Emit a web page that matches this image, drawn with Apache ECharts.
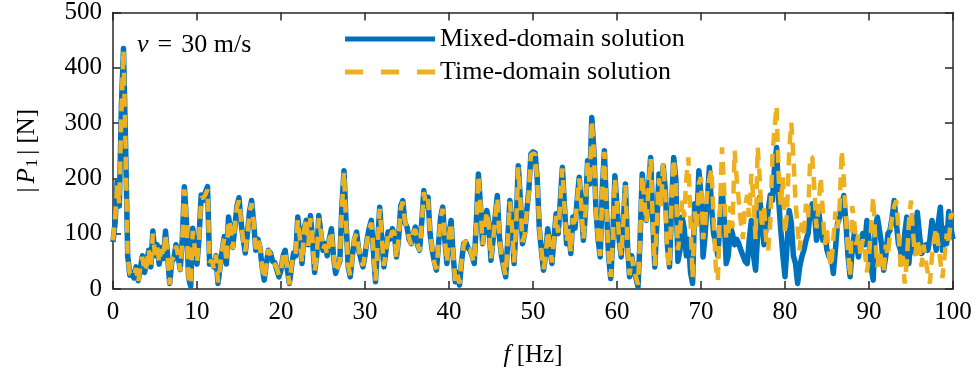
<!DOCTYPE html>
<html><head><meta charset="utf-8">
<script src="https://cdn.jsdelivr.net/npm/echarts@6/dist/echarts.min.js"></script>
<style>html,body{margin:0;padding:0;background:#fff}#c{width:978px;height:381px}</style>
</head><body><div id="c"></div>
<script>
const fStart = 0, fEnd = 100;
const seriesNames = ['Mixed-domain solution', 'Time-domain solution'];
const xTickValues = [0,10,20,30,40,50,60,70,80,90,100];
const yTickValues = [0,100,200,300,400,500];

const mixed = [
85,120,195,150,330,435,260,60, 25,30,20,40, 15,35,60,30, 45,70,40,105,
60,80,45,75, 55,105,60,10, 50,55,80,60, 35,90,185,120, 20,5,110,70,
45,95,170,160, 175,185,45,50, 40,60,10,40, 70,95,45,130, 110,75,110,150,
165,120,90,65, 100,140,160,120, 70,90,75,40, 16,45,70,65, 50,48,35,22,
34,60,70,35, 10,40,65,60, 130,90,46,110, 124,80,133,90, 30,60,133,100,
70,82,60,90, 109,60,28,40, 50,150,214,120, 40,22,60,90, 103,70,55,40,
60,90,110,124, 70,13,80,148, 90,40,70,103, 90,109,100,58, 90,150,160,120,
112,90,82,100, 112,80,70,120, 178,150,166,100, 70,50,34,80, 130,148,90,46,
100,124,60,13, 30,7,50,82, 85,75,70,60, 46,120,208,150, 82,110,142,120,
52,90,130,169, 94,60,40,22, 90,160,110,46, 120,223,160,82, 100,140,178,244,
248,246,200,110, 70,34,60,109, 80,46,90,136, 100,160,220,150, 82,110,64,130,
110,160,202,150, 88,140,232,190, 310,250,142,90, 58,180,250,142, 60,19,90,205,
150,90,58,120, 190,80,22,60, 34,20,4,90, 208,160,124,180, 238,130,40,120,
208,160,223,180, 80,40,150,238, 200,50,70,130, 110,60,90,30, 10,154,120,214,
170,58,100,160, 220,150,100,82, 60,120,184,130, 46,60,112,100, 80,90,82,70,
60,50,46,90, 124,60,34,100, 166,120,80,110, 142,170,160,220, 256,160,106,60,
22,80,142,120, 60,46,10,40, 58,70,88,100, 140,154,142,88, 142,110,88,100,
70,58,60,28, 70,118,130,150, 169,120,60,22, 70,100,80,58, 90,100,80,124,
90,40,16,110, 130,106,80,34, 60,100,106,130, 160,120,82,70, 46,100,130,46,
100,130,64,139, 100,64,70,80, 70,90,124,100, 70,120,148,70, 110,82,140,110,
90
];

const timeDomain = [
88,125,190,155,320,432,255,55, 28,25,22,38, 12,38,58,32, 42,72,38,100,
62,78,48,72, 58,100,62,8, 52,58,78,62, 32,88,180,125, 18,8,105,72,
48,92,165,165, 170,180,48,52, 38,62,12,38, 72,92,48,125, 112,72,112,148,
160,122,88,68, 98,138,155,122, 72,88,78,38, 18,42,72,62, 52,45,38,25,
30,62,68,38, 8,42,62,62, 125,92,48,105, 128,78,128,92, 32,58,128,102,
72,80,62,88, 105,62,30,38, 52,145,212,118, 42,25,58,92, 100,72,52,42,
62,88,108,120, 72,15,78,145, 92,42,68,100, 92,105,102,55, 92,145,158,122,
110,92,80,102, 108,82,68,118, 175,152,162,102, 72,48,36,78, 128,145,92,48,
98,120,62,15, 28,10,52,80, 88,72,72,58, 48,118,205,152, 80,112,140,118,
55,88,128,165, 96,58,42,25, 88,158,112,48, 118,220,158,85, 98,138,175,242,
245,244,198,112, 72,36,58,105, 82,48,88,132, 102,158,218,148, 85,108,66,128,
112,158,200,152, 90,138,230,188, 305,248,140,92, 60,178,248,140, 62,22,88,200,
152,92,60,118, 188,82,25,58, 36,22,8,92, 205,162,120,182, 235,128,42,118,
200,150,230,170, 60,40,160,235, 190,70,100,160, 130,200,238,120, 20,140,110,190,
202,90,120,180, 200,217,130,40, 16,140,256,184, 90,100,150,110, 250,200,160,120,
90,150,170,130, 208,160,90,256, 200,110,150,90, 70,120,240,290, 331,200,150,202,
100,140,250,301, 240,160,110,70, 120,100,154,130, 240,238,180,110, 150,202,140,80,
110,60,40,90, 140,110,150,250, 200,130,70,22, 150,120,80,100, 60,90,70,30,
60,110,166,90, 40,70,50,30, 80,60,100,130, 150,160,110,40, 60,10,50,120,
160,100,60,90, 70,40,80,50, 30,10,60,90, 110,80,50,20, 60,100,80,136,
130
];

function toPairs(arr){
  const step = (fEnd - fStart) / (arr.length - 1);
  return arr.map((v, i) => [fStart + i * step, v]);
}

const FONT = '"Liberation Serif","Times New Roman",Times,serif';
const AX = '#262626';
const TICKFS = 25;
const axisCommon = {
  axisLine: {show: true, onZero: false, lineStyle: {color: AX, width: 1.5}},
  axisTick: {show: true, inside: true, length: 8, lineStyle: {color: AX, width: 1.5}},
  splitLine: {show: false}
};

const chart = echarts.init(document.getElementById('c'), null, {renderer: 'canvas'});
chart.setOption({
  animation: false,
  backgroundColor: '#fff',
  grid: {left: 113, right: 25, top: 11, bottom: 92, containLabel: false},
  xAxis: [
    Object.assign({
      type: 'value', min: xTickValues[0], max: xTickValues[xTickValues.length-1], interval: 10, position: 'bottom',
      axisLabel: {color: '#000', fontFamily: FONT, fontSize: TICKFS, margin: 11},
      name: '{i|f} [Hz]', nameLocation: 'middle', nameGap: 54,
      nameTextStyle: {color: '#000', fontFamily: FONT, fontSize: 25,
        rich: {i: {fontStyle: 'italic', fontFamily: FONT, fontSize: 25, color: '#000'}}}
    }, axisCommon),
    Object.assign({
      type: 'value', min: 0, max: 100, interval: 10, position: 'top',
      axisLabel: {show: false}
    }, axisCommon)
  ],
  yAxis: [
    Object.assign({
      type: 'value', min: yTickValues[0], max: yTickValues[yTickValues.length-1], interval: 100, position: 'left',
      axisLabel: {color: '#000', fontFamily: FONT, fontSize: TICKFS, margin: 11},
      name: '|{i|P}{s|1}| [N]', nameLocation: 'middle', nameGap: 72,
      nameTextStyle: {color: '#000', fontFamily: FONT, fontSize: 25,
        rich: {
          i: {fontStyle: 'italic', fontFamily: FONT, fontSize: 25, color: '#000', padding: [0, 1, 0, 4]},
          s: {fontFamily: FONT, fontSize: 17, color: '#000', padding: [10, 4, 0, 0]}
        }}
    }, axisCommon),
    Object.assign({
      type: 'value', min: 0, max: 500, interval: 100, position: 'right',
      axisLabel: {show: false}
    }, axisCommon)
  ],
  legend: {
    orient: 'vertical', left: 345, top: 26, padding: 0, itemWidth: 90, itemHeight: 5, itemGap: 7,
    textStyle: {color: '#000', fontFamily: FONT, fontSize: 26},
    data: [
      {name: seriesNames[0], icon: 'path://M0,0H90V5H0Z', itemStyle: {color: '#0072BD'}},
      {name: seriesNames[1], icon: 'path://M0,0H18V5H0Z M36,0H54V5H36Z M72,0H90V5H72Z', itemStyle: {color: '#EDB120'}}
    ]
  },
  graphic: [{
    type: 'text', left: 137, top: 32,
    style: {
      text: '{i|v}{e|=}30 m/s',
      font: '26px ' + FONT, fill: '#000',
      rich: {
        i: {fontStyle: 'italic', fontFamily: FONT, fontSize: 26, fill: '#000'},
        e: {fontFamily: FONT, fontSize: 26, fill: '#000', padding: [0, 9, 0, 9]}
      }
    }
  }],
  series: [
    {name: seriesNames[0], type: 'line', data: toPairs(mixed), showSymbol: false, symbol: 'none',
     lineStyle: {color: '#0072BD', width: 5.5, join: 'round'}, itemStyle: {color: '#0072BD'}, z: 2},
    {name: seriesNames[1], type: 'line', data: toPairs(timeDomain), showSymbol: false, symbol: 'none',
     lineStyle: {color: '#EDB120', width: 4.5, type: [13, 8]}, itemStyle: {color: '#EDB120'}, z: 3}
  ]
});
</script></body></html>
